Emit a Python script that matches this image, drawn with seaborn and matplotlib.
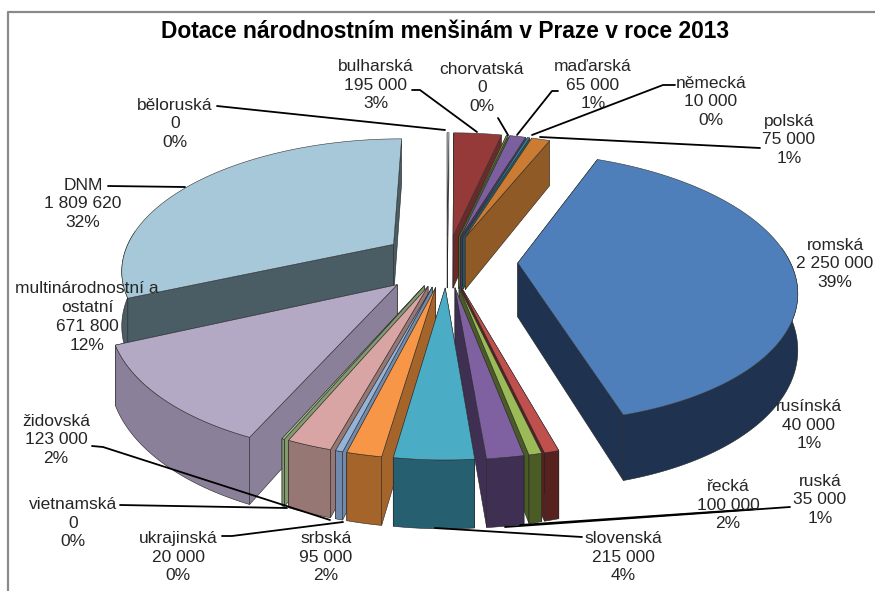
import numpy as np
import matplotlib.pyplot as plt
import seaborn as sns

sns.set_theme(style='white')
plt.rcParams['font.family'] = ['Liberation Sans', 'DejaVu Sans']

names = ['běloruská', 'bulharská', 'chorvatská', 'maďarská', 'německá', 'polská',
         'romská', 'rusínská', 'ruská', 'řecká', 'slovenská', 'srbská',
         'ukrajinská', 'židovská', 'vietnamská', 'multinárodnostní a\nostatní', 'DNM']
values = [0, 195000, 0, 65000, 10000, 75000,
          2250000, 40000, 35000, 100000, 215000, 95000,
          20000, 123000, 0, 671800, 1809620]
top_colors = ['#F4F6F8', '#953A39', '#77933C', '#7B5F9E', '#31859C', '#CC7B33',
              '#4F7FBA', '#C0504D', '#9BBB59', '#7F60A0', '#4BACC6', '#F79646',
              '#95B3D7', '#D9A5A4', '#A9BF8F', '#B3A9C4', '#A6C8D8']
wall_colors = ['#C8CCD0', '#6B2A2A', '#55692B', '#4B3A63', '#205E70', '#8F5A25',
               '#1F3350', '#57211F', '#4A5B26', '#3F2F52', '#265F70', '#A5642A',
               '#7189AA', '#967774', '#839A6F', '#8A8099', '#4A5C64']
explode = [0.2, 0.2, 0.2, 0.2, 0.2, 0.2, 0.26, 0.2, 0.2, 0.2, 0.2, 0.2, 0.2, 0.2, 0.2, 0.25, 0.24]

# where the label text goes (centre of the block)
label_pos = [(175, 124), (376, 85), (482, 88), (593, 85), (711, 102), (789, 140),
             (835, 264), (809, 425), (820, 500), (728, 505), (623, 557), (326, 557),
             (178, 557), (56, 440), (73, 523), (87, 317), (83, 204)]
leaders = [[(217, 106), (445, 130)],
           [(412, 90), (420, 90), (477, 132)],
           [(498, 118), (508, 135)],
           [(558, 91), (552, 91), (517, 135)],
           [(675, 85), (663, 85), (532, 135)],
           [(760, 148), (740, 147), (540, 137)],
           [(790, 507), (505, 527)],
           [(757, 509), (520, 525)],
           [(582, 537), (565, 536), (435, 528)],
           [(222, 536), (232, 536), (343, 522)],
           [(92, 446), (103, 447), (330, 520)],
           [(120, 505), (287, 508)],
           [(108, 186), (185, 187)]]

CX, CY, RX, RY, K, H = 447, 261, 272, 130, 0.18, 54
ZERO_SLIVER = 7000  # zero slices still show as a hairline


def project(px, py, down=0):
    s = 1 / (1 + K * py)
    return CX + RX * px * s, CY - RY * py * s + down * H * s


def fmt(v):
    return f'{v:,}'.replace(',', ' ')


fig = plt.figure(figsize=(8.75, 5.91), dpi=100)
ax = fig.add_axes([0, 0, 1, 1])
ax.set_xlim(0, 875)
ax.set_ylim(591, 0)
ax.axis('off')

total = sum(values)
shown = np.array([v if v > 0 else ZERO_SLIVER for v in values], dtype=float)
edges = np.concatenate([[0], np.cumsum(shown)]) / shown.sum() * 2 * np.pi
mids = (edges[:-1] + edges[1:]) / 2

# far slices first
for i in np.argsort(-np.cos(mids)):
    a0, a1 = edges[i], edges[i + 1]
    ox, oy = explode[i] * np.sin(mids[i]), explode[i] * np.cos(mids[i])
    th = np.linspace(a0, a1, max(3, int((a1 - a0) * 60)))
    rim_x, rim_y = ox + np.sin(th), oy + np.cos(th)

    # the two radial walls, farther one first
    faces = sorted([a0, a1], key=lambda a: -np.cos(a))
    for a in faces:
        ex, ey = ox + np.sin(a), oy + np.cos(a)
        tx, ty = project(np.array([ox, ex]), np.array([oy, ey]))
        bx, by = project(np.array([ex, ox]), np.array([ey, oy]), 1)
        ax.fill(np.r_[tx, bx], np.r_[ty, by], color=wall_colors[i], ec='#222222', lw=0.4)

    # outer wall, only the part turned to the viewer
    front = np.cos(th) < 0.12
    if front.sum() > 1:
        tx, ty = project(rim_x[front], rim_y[front])
        bx, by = project(rim_x[front][::-1], rim_y[front][::-1], 1)
        ax.fill(np.r_[tx, bx], np.r_[ty, by], color=wall_colors[i], ec='#222222', lw=0.4)

    tx, ty = project(np.r_[ox, rim_x], np.r_[oy, rim_y])
    ax.fill(tx, ty, color=top_colors[i], ec='#333333', lw=0.4)

for pts in leaders:
    xs, ys = zip(*pts)
    ax.plot(xs, ys, color='black', lw=1.3, solid_capstyle='round')

for name, v, (x, y) in zip(names, values, label_pos):
    ax.text(x, y, f'{name}\n{fmt(v)}\n{round(v / total * 100)}%', ha='center', va='center',
            fontsize=12.5, color='#262626', linespacing=1.32)

ax.text(445, 31, 'Dotace národnostním menšinám v Praze v roce 2013', ha='center', va='center',
        fontsize=16.4, fontweight='bold', color='black')

# chart frame, cut off on the right and at the bottom
ax.plot([875, 8, 8], [12, 12, 591], color='#8A8A8A', lw=1.6)

fig.savefig('out.png', dpi=100)
